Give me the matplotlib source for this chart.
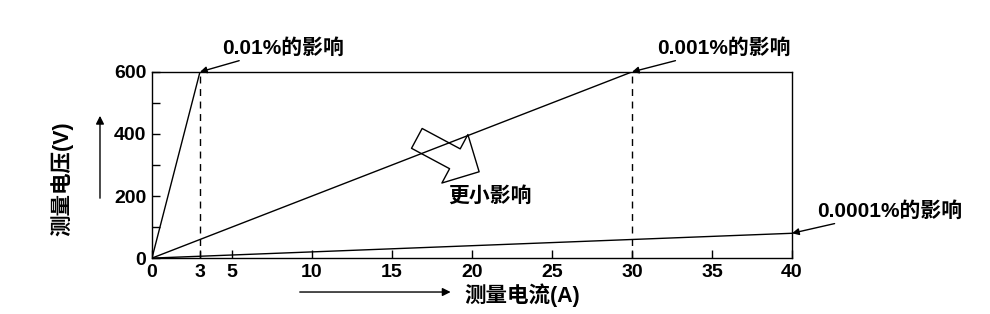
import matplotlib
matplotlib.use("Agg")
import matplotlib.pyplot as plt

plt.rcParams["font.family"] = ["Liberation Sans", "Noto Sans CJK SC", "DejaVu Sans"]
plt.rcParams["font.weight"] = "bold"

# lines start at the origin and end at these points
line_x = [3, 30, 40]
line_y = [600, 600, 80]
labels = ["0.01%的影响", "0.001%的影响", "0.0001%的影响"]
label_pos = [(4.4, 677), (31.6, 677), (41.6, 152)]
dashed_x = [3, 30]

xticks = [0, 3, 5, 10, 15, 20, 25, 30, 35, 40]
yticks = [0, 200, 400, 600]
yminor = [100, 300, 500]

fig = plt.figure(figsize=(9.9, 3.14), dpi=100)
ax = fig.add_axes([0.1535, 0.178, 0.6465, 0.593])

for x, y in zip(line_x, line_y):
    ax.plot([0, x], [0, y], color="black", lw=1)
for x in dashed_x:
    ax.plot([x, x], [0, 600], color="black", lw=1, ls=(0, (5, 4)))

for (x, y), lab, (tx, ty) in zip(zip(line_x, line_y), labels, label_pos):
    ax.annotate(lab, xy=(x, y), xytext=(tx, ty), fontsize=15, fontweight="bold",
                ha="left", va="center", annotation_clip=False,
                arrowprops=dict(arrowstyle="-|>", color="black", lw=1,
                                shrinkA=0, shrinkB=0, mutation_scale=10))

# hollow arrow showing the trend (outline only, line shows through)
ax.annotate("", xy=(20.6, 274), xytext=(16.4, 390),
            arrowprops=dict(arrowstyle="simple,head_length=1.1,head_width=2.2,tail_width=0.9",
                            fc="none", ec="black", lw=1, mutation_scale=18))
ax.text(21.1, 200, "更小影响", fontsize=15, fontweight="bold", ha="center", va="center")

ax.set_xlim(0, 40)
ax.set_ylim(0, 600)
ax.set_xticks(xticks)
ax.set_yticks(yticks)
ax.set_yticks(yminor, minor=True)
ax.tick_params(direction="in", length=6, width=1, labelsize=14, pad=4)
ax.tick_params(which="minor", direction="in", length=6, width=1)
for lab in ax.get_xticklabels() + ax.get_yticklabels():
    lab.set_fontweight("bold")
for s in ax.spines.values():
    s.set_linewidth(1)

# axis labels with arrows
fig.text(0.063, 0.43, "测量电压(V)", rotation=90, fontsize=15.5, fontweight="bold",
         ha="center", va="center")
fig.add_artist(matplotlib.patches.FancyArrowPatch(
    (0.101, 0.36), (0.101, 0.64), transform=fig.transFigure,
    arrowstyle="-|>", mutation_scale=12, color="black", lw=1))
fig.text(0.469, 0.06, "测量电流(A)", fontsize=15.5, fontweight="bold",
         ha="left", va="center")
fig.add_artist(matplotlib.patches.FancyArrowPatch(
    (0.30, 0.07), (0.458, 0.07), transform=fig.transFigure,
    arrowstyle="-|>", mutation_scale=12, color="black", lw=1))

fig.savefig("out.png", dpi=100)
